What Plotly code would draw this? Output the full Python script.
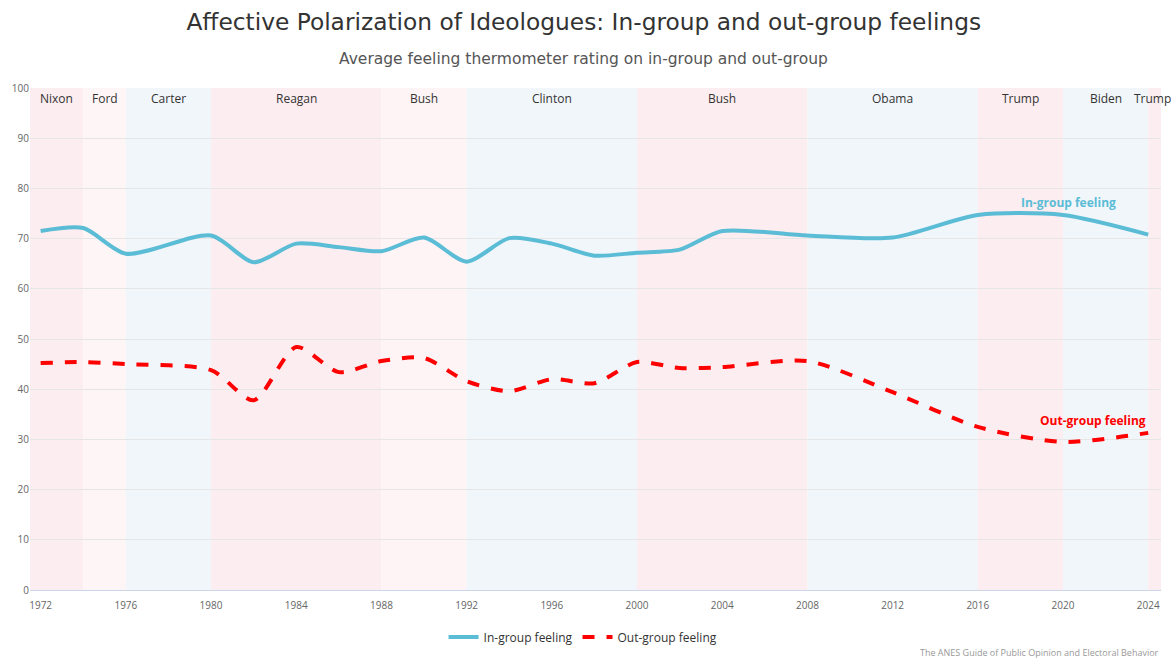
import plotly.graph_objects as go

years = [1972, 1974, 1976, 1980, 1982, 1984, 1986, 1988, 1990, 1992, 1994, 1996,
         1998, 2000, 2002, 2004, 2008, 2012, 2016, 2020, 2024]
in_group = [71.5, 72.1, 67.0, 70.6, 65.3, 69.0, 68.3, 67.5, 70.2, 65.4, 70.1, 69.0,
            66.6, 67.2, 67.8, 71.5, 70.6, 70.2, 74.7, 74.7, 70.8]
out_group = [45.2, 45.4, 45.0, 43.8, 37.8, 48.4, 43.4, 45.6, 46.2, 41.6, 39.6, 42.0,
             41.2, 45.4, 44.2, 44.4, 45.6, 39.4, 32.5, 29.5, 31.3]

presidents = ["Nixon", "Ford", "Carter", "Reagan", "Bush", "Clinton", "Bush",
              "Obama", "Trump", "Biden", "Trump"]
term_start = [1971.5, 1974, 1976, 1980, 1988, 1992, 2000, 2008, 2016, 2020, 2024]
term_end = [1974, 1976, 1980, 1988, 1992, 2000, 2008, 2016, 2020, 2024, 2024.6]
band_colors = ["#fcedf0", "#fef5f6", "#f1f6fb", "#fcedf0", "#fef3f5", "#f1f6fb",
               "#fcedf0", "#f1f6fb", "#fcedf0", "#f1f6fb", "#fcedf0"]
label_x = [1972.75, 1975, 1978, 1984, 1990, 1996, 2004, 2012, 2018, 2022, 2024.2]

x_ticks = list(range(1972, 2025, 4))
y_ticks = list(range(0, 101, 10))

FONT = "Open Sans"
TFONT = "DejaVu Sans"
IN_COLOR = "#5bbcd6"
OUT_COLOR = "#ff0000"

fig = go.Figure()

fig.add_trace(go.Scatter(
    x=years, y=in_group, name="In-group feeling", mode="lines",
    line=dict(color=IN_COLOR, width=4, shape="spline", smoothing=0.75),
))
fig.add_trace(go.Scatter(
    x=years, y=out_group, name="Out-group feeling", mode="lines",
    line=dict(color=OUT_COLOR, width=4, shape="spline", smoothing=0.75, dash="dash"),
))

shapes = []
for s, e, c in zip(term_start, term_end, band_colors):
    shapes.append(dict(type="rect", xref="x", yref="paper", x0=s, x1=e, y0=0, y1=1,
                       fillcolor=c, line=dict(width=0), layer="below"))

annotations = []
for name, lx in zip(presidents, label_x):
    annotations.append(dict(x=lx, y=98.0, xref="x", yref="y", text=name,
                            showarrow=False, font=dict(family=FONT, size=12, color="#333333")))

annotations.append(dict(x=2020.27, y=77.2, xref="x", yref="y", text="<b>In-group feeling</b>",
                        showarrow=False, font=dict(family=FONT, size=12, color=IN_COLOR)))
annotations.append(dict(x=2021.42, y=33.8, xref="x", yref="y", text="<b>Out-group feeling</b>",
                        showarrow=False, font=dict(family=FONT, size=12, color=OUT_COLOR)))
annotations.append(dict(x=1.0, y=-0.124, xref="paper", yref="paper",
                        text="The ANES Guide of Public Opinion and Electoral Behavior",
                        showarrow=False, xanchor="right", yanchor="middle",
                        font=dict(family=FONT, size=9, color="#999999")))
annotations.append(dict(x=0.4898, y=1.0578, xref="paper", yref="paper",
                        text="Average feeling thermometer rating on in-group and out-group",
                        showarrow=False, xanchor="center", yanchor="middle",
                        font=dict(family=TFONT, size=15.5, color="#555555")))

fig.update_layout(
    width=1171, height=660,
    margin=dict(l=30, r=10, t=88, b=70),
    paper_bgcolor="white", plot_bgcolor="white",
    title=dict(
        text="Affective Polarization of Ideologues: In-group and out-group feelings",
        x=0.4985, xanchor="center", xref="container", y=0.967, yanchor="middle",
        font=dict(family=TFONT, size=23.3, color="#333333"), automargin=False,
    ),
    shapes=shapes,
    annotations=annotations,
    showlegend=True,
    legend=dict(orientation="h", x=0.489, xanchor="center",
                yref="container", y=0.035, yanchor="middle",
                font=dict(family=FONT, size=12, color="#333333")),
    xaxis=dict(range=[1971.5, 2024.6], tickvals=x_ticks, showgrid=False,
               showline=True, linecolor="#ccd6eb", zeroline=False, automargin=False,
               ticks="", ticklabelstandoff=6,
               tickfont=dict(family=FONT, size=10, color="#666666")),
    yaxis=dict(range=[0, 100], tickvals=y_ticks, showgrid=True, gridcolor="#e6e6e6",
               zeroline=False, ticks="", automargin=False,
               tickfont=dict(family=FONT, size=10, color="#666666")),
)

fig.write_html("out.html", config={"displayModeBar": False},
               post_script="document.body.style.margin='0';")
